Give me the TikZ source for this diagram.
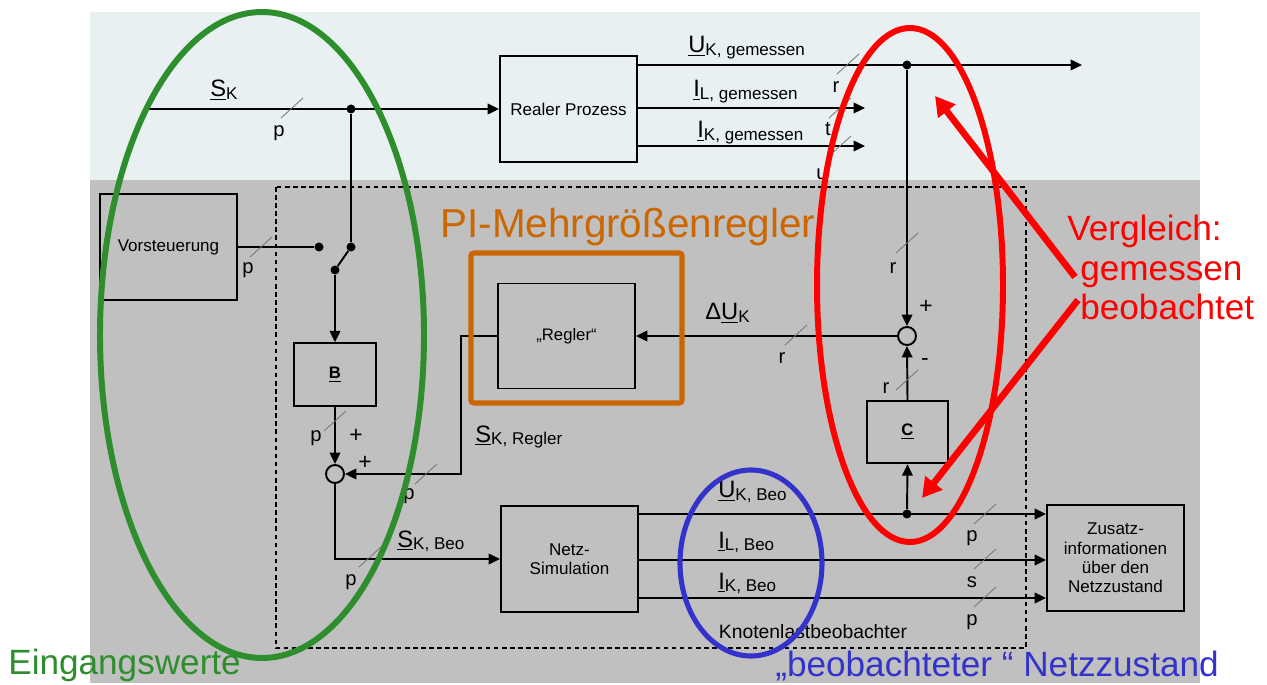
\documentclass[tikz,border=0pt]{standalone}
\usepackage{fontspec}
\setmainfont{Liberation Sans}
\usetikzlibrary{arrows.meta}
\definecolor{bgtop}{RGB}{232,240,242}
\definecolor{bggray}{RGB}{192,192,192}
\definecolor{anngreen}{RGB}{46,142,46}
\definecolor{annred}{RGB}{255,0,0}
\definecolor{annblue}{RGB}{51,51,204}
\definecolor{annorange}{RGB}{204,102,0}
\newcommand{\symb}[2]{{\fontsize{13.5}{13.5}\selectfont\underline{#1}}\raisebox{-1.2pt}{\fontsize{9.7}{10}\selectfont #2}}
\begin{document}
\begin{tikzpicture}[x=0.02cm,y=-0.02cm,
  blk/.style={draw, line width=1.1pt, minimum width=2.74cm, minimum height=2.12cm, align=center, font=\fontsize{9.7}{11}\selectfont, inner sep=1pt},
  smallblk/.style={draw, line width=1.1pt, minimum width=1.63cm, minimum height=1.25cm, font=\fontsize{9.5}{9.5}\selectfont\bfseries},
  sumc/.style={circle, draw, line width=1.1pt, minimum size=0.36cm, inner sep=0pt},
  dotn/.style={circle, fill, inner sep=0pt, minimum size=0.18cm},
  conn/.style={draw, line width=1.1pt},
  arr/.style={conn, -{Triangle[length=6.5pt,width=6pt]}},
  tickln/.style={draw=black!55, line width=0.45pt},
  tk/.pic={\draw[tickln] (-11,10) -- (11,-10);},
  lab/.style={font=\fontsize{11.5}{11.5}\selectfont, inner sep=0pt},
  symlab/.style={anchor=base west, inner sep=0pt},
  pm/.style={font=\fontsize{13}{13}\selectfont, inner sep=0pt},
  annot/.style={anchor=base west, inner sep=0pt, font=\fontsize{20}{20}\selectfont}
]
\useasboundingbox (0,0) rectangle (1267,685);
% backgrounds
\fill[bgtop] (90,12) rectangle (1200,180);
% clipped label u
\begin{scope}
\clip (0,0) rectangle (1267,180);
\node[lab] (lu) at (822,174) {u};
\end{scope}
\fill[bggray] (90,180) rectangle (1200,683);
\draw[line width=1.1pt, dash pattern=on 2.6pt off 2pt] (276,187) rectangle (1026,648);

% blocks
\node[blk] (rp) at (568.5,109) {Realer Prozess};
\node[blk] (vs) at (168.5,247) {Vorsteuerung};
\node[blk, minimum height=2.1cm] (reg) at (566.5,336) {\fontsize{9.5}{9.5}\selectfont „Regler“};
\node[blk] (ns) at (569.5,559) {Netz-\\Simulation};
\node[blk] (zs) at (1115.5,558) {Zusatz-\\informationen\\über den\\Netzzustand};
\node[smallblk] (bb) at (335,374.5) {\underline{B}};
\node[smallblk] (cc) at (907.5,432) {\underline{C}};
\node[sumc] (s1) at (335,474) {};
\node[sumc] (s2) at (907,336) {};

% dots and coordinates
\node[dotn] (d1) at (351,109) {};
\node[dotn] (d2) at (907,65) {};
\node[dotn] (d3) at (907,514) {};
\node[dotn] (sw1) at (319,247) {};
\node[dotn] (sw2) at (351,247) {};
\node[dotn] (sw3) at (335,270) {};
\coordinate (skin) at (148,109);
\coordinate (uend) at (1082,65);
\coordinate (ilend) at (865,108);
\coordinate (ikend) at (865,146);
\coordinate (ilb) at (0,560);
\coordinate (ikb) at (0,598);

% connectors
\draw[arr] (skin) -- (rp.west);
\draw[conn] (d1) -- (sw2);
\draw[conn] (sw2) -- (sw3);
\draw[arr] (sw3) -- (bb.north);
\draw[conn] (vs.east) -- (sw1);
\draw[arr] (bb.south) -- (s1.north);
\draw[arr] (reg.west) -- ++(-36,0) |- (s1.east);
\draw[arr] (s1.south) |- (ns.west);
\draw[arr] (rp.east |- uend) -- (uend);
\draw[arr] (rp.east |- ilend) -- (ilend);
\draw[arr] (rp.east |- ikend) -- (ikend);
\draw[arr] (d2) -- (s2.north);
\draw[arr] (s2.west) -- (reg.east);
\draw[arr] (cc.north) -- (s2.south);
\draw[arr] (d3) -- (cc.south);
\draw[arr] (ns.east |- d3) -- (zs.west |- d3);
\draw[arr] (ns.east |- ilb) -- (zs.west |- ilb);
\draw[arr] (ns.east |- ikb) -- (zs.west |- ikb);

% ticks
\pic at (292,108) {tk};
\pic at (261,247) {tk};
\pic at (848,64) {tk};
\pic at (840,108) {tk};
\pic at (840,146) {tk};
\pic at (907,243) {tk};
\pic at (907,380) {tk};
\pic at (796,335) {tk};
\pic at (335,421) {tk};
\pic at (426,474) {tk};
\pic at (370,557) {tk};
\pic at (985,514) {tk};
\pic at (985,559) {tk};
\pic at (985,597) {tk};

% small labels
\node[lab] (lp1) at (279,133) {p};
\node[lab] (lp2) at (248,270) {p};
\node[lab] (lr1) at (836,87) {r};
\node[lab] (lt) at (828,129) {t};
\node[lab] (lr2) at (893,268) {r};
\node[lab] (lr3) at (886,388) {r};
\node[lab] (lr4) at (782,358) {r};
\node[lab] (lp3) at (316,438) {p};
\node[lab] (lp4) at (409,496) {p};
\node[lab] (lp5) at (351,582) {p};
\node[lab] (lp6) at (972,538) {p};
\node[lab] (ls) at (972,582) {s};
\node[lab] (lp7) at (972,622) {p};
\node[pm] (pl1) at (356,436) {+};
\node[pm] (pl2) at (365,463) {+};
\node[pm] (pl3) at (926,307) {+};
\node[pm] (mi1) at (925,362) {-};

% signal labels
\node[symlab] (lsk) at (210,97) {\symb{S}{K}};
\node[symlab] (luk) at (688,53) {\symb{U}{K, gemessen}};
\node[symlab] (lil) at (693,97) {\symb{I}{L, gemessen}};
\node[symlab] (lik) at (697,138) {\symb{I}{K, gemessen}};
\node[symlab] (ldu) at (705,320) {{\fontsize{13.5}{13.5}\selectfont Δ\underline{U}}\raisebox{-1.2pt}{\fontsize{9.7}{10}\selectfont K}};
\node[symlab] (lskr) at (475,442) {\symb{S}{K, Regler}};
\node[symlab] (lskb) at (397,547) {\symb{S}{K, Beo}};
\node[symlab] (lukb) at (718,498) {\symb{U}{K, Beo}};
\node[symlab] (lilb) at (718,548) {\symb{I}{L, Beo}};
\node[symlab] (likb) at (718,589) {\symb{I}{K, Beo}};
\node[font=\fontsize{11}{11}\selectfont, inner sep=0pt] (knl) at (813,632) {Knotenlastbeobachter};

% annotations
\draw[anngreen, line width=3.4pt] (262,335) ellipse [x radius=162, y radius=323];
\draw[annblue, line width=2.9pt] (751,563) ellipse [x radius=71, y radius=93];
\draw[annred, line width=3.4pt] (910,285) ellipse [x radius=93, y radius=257];
\draw[annorange, line width=2.9pt, rounded corners=1.5pt] (471,253) rectangle (682,403);
\node[annot, text=annorange, font=\fontsize{23}{23}\selectfont] (pit) at (440,238) {PI-Mehrgrößenregler};
\coordinate (ra1s) at (1075,277);
\coordinate (ra1e) at (935,96);
\coordinate (ra2s) at (1078,300);
\coordinate (ra2e) at (922,498);
\draw[annred, line width=3.8pt, -{Triangle[length=11pt,width=12pt]}] (ra1s) -- (ra1e);
\draw[annred, line width=3.8pt, -{Triangle[length=11pt,width=12pt]}] (ra2s) -- (ra2e);
\node[annot, text=annred] (t1) at (1067,241) {Vergleich:};
\node[annot, text=annred] (t2) at (1080,281) {gemessen};
\node[annot, text=annred] (t3) at (1080,320) {beobachtet};
\node[annot, text=anngreen] (eg) at (8,674) {Eingangswerte};
\node[annot, text=annblue] (bn) at (775,676) {„beobachteter “ Netzzustand};
\end{tikzpicture}
\end{document}
